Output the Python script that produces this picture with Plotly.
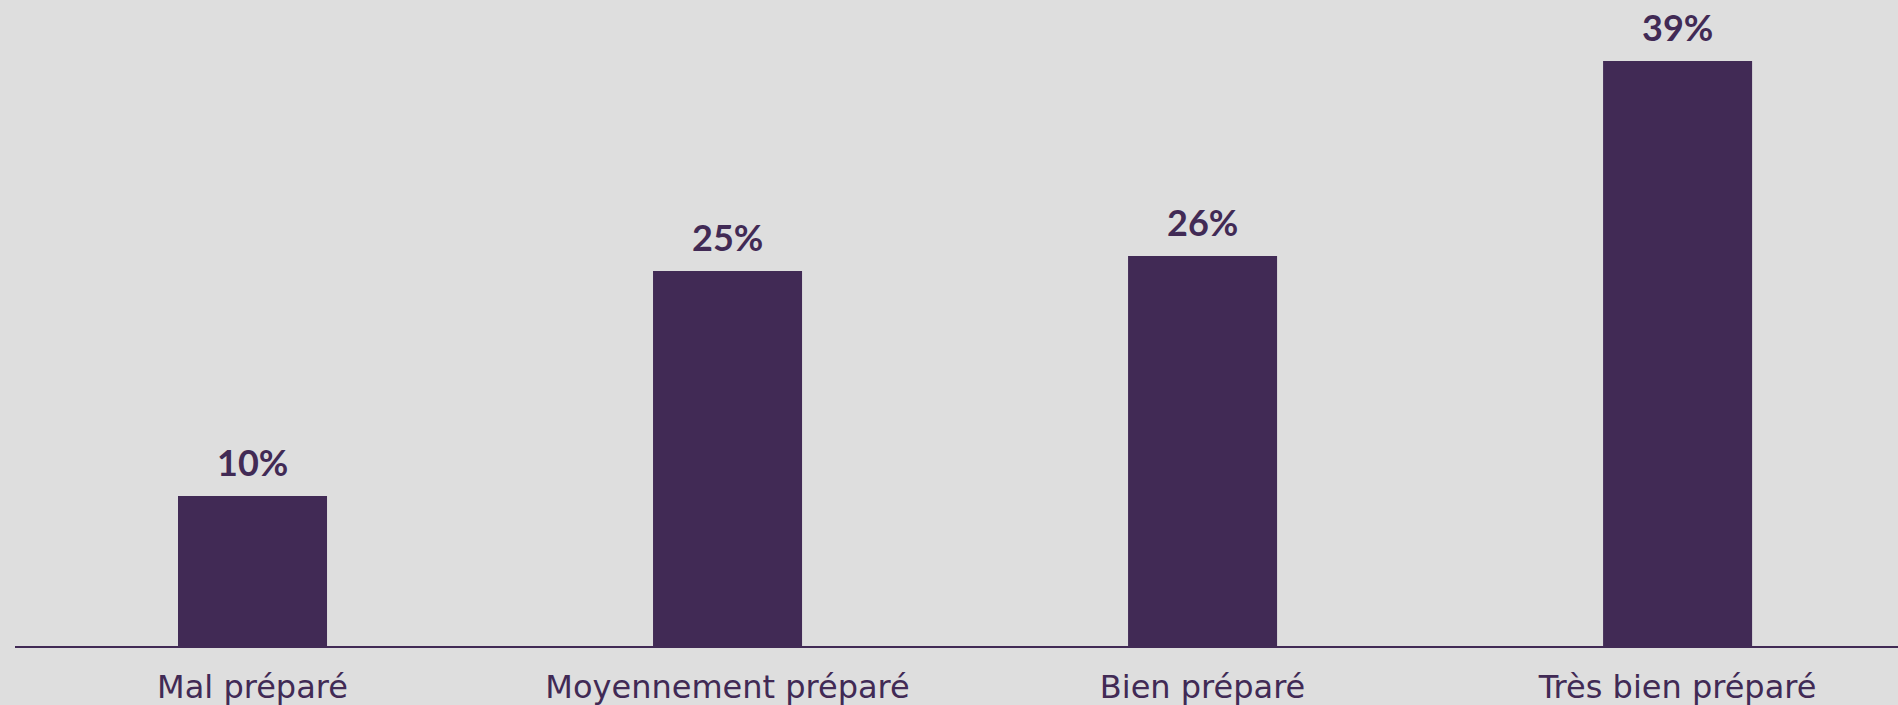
import plotly.graph_objects as go

categories = ["Mal préparé", "Moyennement préparé", "Bien préparé", "Très bien préparé"]
values = [10, 25, 26, 39]
labels = ["10%", "25%", "26%", "39%"]

BAR = "#412a55"
W, H = 1898, 705

fig = go.Figure()
fig.add_trace(go.Bar(
    x=list(range(len(categories))), y=values,
    marker=dict(color=BAR, line=dict(width=0)),
    width=0.3137, hoverinfo="skip",
))
for i, (v, t) in enumerate(zip(values, labels)):
    fig.add_annotation(x=i, y=v, text=f"<b>{t}</b>", showarrow=False,
                       xanchor="center", yanchor="bottom", yshift=10,
                       font=dict(family="Lato", size=36, color=BAR))

fig.update_layout(
    width=W, height=H,
    margin=dict(l=15, r=0, t=0, b=58.5),
    paper_bgcolor="#dedede", plot_bgcolor="rgba(0,0,0,0)",
    showlegend=False,
    xaxis=dict(range=[-0.5, 3.464], tickmode="array",
               tickvals=list(range(len(categories))), ticktext=categories,
               showgrid=False, zeroline=False, showline=True,
               linecolor=BAR, linewidth=2, ticks="outside", ticklen=12,
               tickcolor="rgba(0,0,0,0)",
               tickfont=dict(family="DejaVu Sans", size=32, color=BAR)),
    yaxis=dict(range=[0, 646 / 15], visible=False, fixedrange=True),
)
fig.write_html("out.html", config={"displayModeBar": False},
               post_script="document.body.style.margin='0';document.body.style.background='#dedede';")
